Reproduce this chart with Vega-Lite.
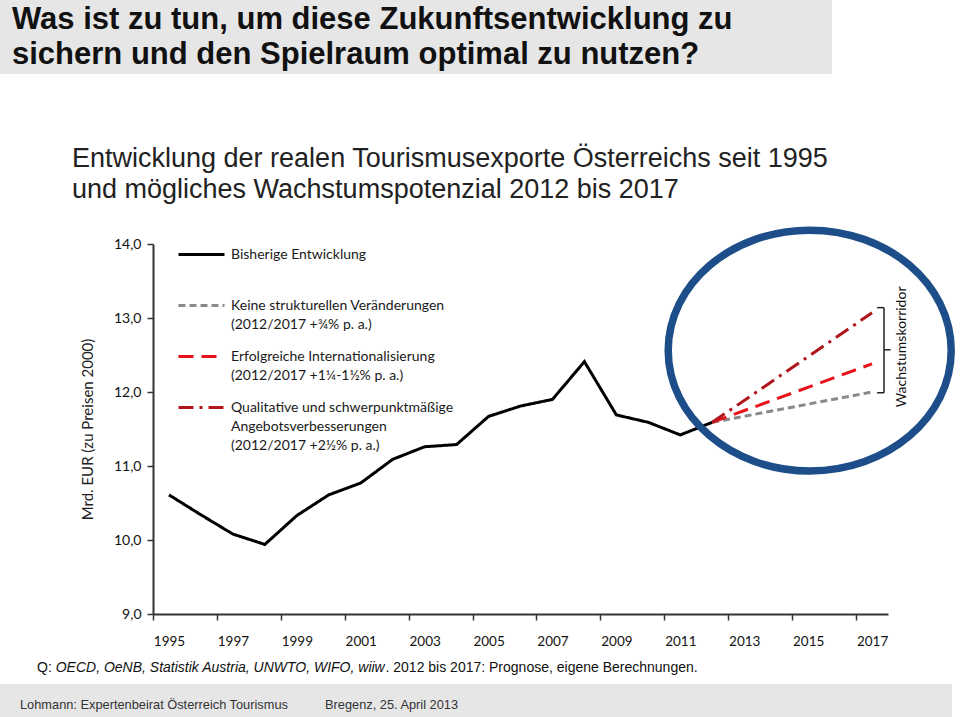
{
  "$schema": "https://vega.github.io/schema/vega-lite/v6.json",
  "padding": 0,
  "background": "white",
  "spacing": 0,
  "bounds": "flush",
  "config": {
    "view": {"stroke": null},
    "style": {"guide-label": {"lineHeight": 19}}
  },
  "vconcat": [
    {
      "width": 832,
      "height": 74,
      "view": {"fill": "#e6e6e7", "stroke": null},
      "data": {"values": [{}]},
      "mark": {"type": "text", "text": ["Was ist zu tun, um diese Zukunftsentwicklung zu", "sichern und den Spielraum optimal zu nutzen?"], "align": "left", "baseline": "top", "font": "Liberation Sans", "fontSize": 31, "fontWeight": "bold", "lineHeight": 35, "dx": 12, "dy": 5, "color": "#111111"},
      "encoding": {
        "x": {"datum": 0, "type": "quantitative", "scale": {"domain": [0, 1]}, "axis": null},
        "y": {"datum": 1, "type": "quantitative", "scale": {"domain": [0, 1]}, "axis": null}
      }
    },
    {
      "width": 832,
      "height": 170,
      "data": {"values": [{}]},
      "mark": {"type": "text", "text": ["Entwicklung der realen Tourismusexporte Österreichs seit 1995", "und mögliches Wachstumspotenzial 2012 bis 2017"], "align": "left", "baseline": "top", "font": "Liberation Sans", "fontSize": 27, "lineHeight": 31, "dx": 72, "dy": 72, "color": "#222222"},
      "encoding": {
        "x": {"datum": 0, "type": "quantitative", "scale": {"domain": [0, 1]}, "axis": null},
        "y": {"datum": 1, "type": "quantitative", "scale": {"domain": [0, 1]}, "axis": null}
      }
    },
    {
      "width": 888,
      "height": 370,
      "data": {"values": [
        {"series": "Bisherige Entwicklung", "year": 1995, "value": 10.61},
        {"series": "Bisherige Entwicklung", "year": 1996, "value": 10.34},
        {"series": "Bisherige Entwicklung", "year": 1997, "value": 10.08},
        {"series": "Bisherige Entwicklung", "year": 1998, "value": 9.94},
        {"series": "Bisherige Entwicklung", "year": 1999, "value": 10.33},
        {"series": "Bisherige Entwicklung", "year": 2000, "value": 10.61},
        {"series": "Bisherige Entwicklung", "year": 2001, "value": 10.77},
        {"series": "Bisherige Entwicklung", "year": 2002, "value": 11.09},
        {"series": "Bisherige Entwicklung", "year": 2003, "value": 11.26},
        {"series": "Bisherige Entwicklung", "year": 2004, "value": 11.29},
        {"series": "Bisherige Entwicklung", "year": 2005, "value": 11.67},
        {"series": "Bisherige Entwicklung", "year": 2006, "value": 11.81},
        {"series": "Bisherige Entwicklung", "year": 2007, "value": 11.9},
        {"series": "Bisherige Entwicklung", "year": 2008, "value": 12.41},
        {"series": "Bisherige Entwicklung", "year": 2009, "value": 11.69},
        {"series": "Bisherige Entwicklung", "year": 2010, "value": 11.59},
        {"series": "Bisherige Entwicklung", "year": 2011, "value": 11.42},
        {"series": "Bisherige Entwicklung", "year": 2012, "value": 11.59},
        {"series": "Keine strukturellen Veränderungen|(2012/2017 +¾% p. a.)", "year": 2012, "value": 11.59},
        {"series": "Keine strukturellen Veränderungen|(2012/2017 +¾% p. a.)", "year": 2017, "value": 12.0},
        {"series": "Erfolgreiche Internationalisierung|(2012/2017 +1¼-1½% p. a.)", "year": 2012, "value": 11.59},
        {"series": "Erfolgreiche Internationalisierung|(2012/2017 +1¼-1½% p. a.)", "year": 2017, "value": 12.38},
        {"series": "Qualitative und schwerpunktmäßige|\u00a0Angebotsverbesserungen|(2012/2017 +2½% p. a.)", "year": 2012, "value": 11.59},
        {"series": "Qualitative und schwerpunktmäßige|\u00a0Angebotsverbesserungen|(2012/2017 +2½% p. a.)", "year": 2017, "value": 13.07}
      ]},
      "layer": [
        {
          "mark": {"type": "line", "strokeWidth": 3, "strokeCap": "butt"},
          "encoding": {
            "x": {"field": "year", "type": "quantitative",
              "scale": {"domain": [1994.5, 2017.5], "range": [153, 888], "nice": false, "zero": false},
              "axis": {"values": [1994.5, 1995.5, 1996.5, 1997.5, 1998.5, 1999.5, 2000.5, 2001.5, 2002.5, 2003.5, 2004.5, 2005.5, 2006.5, 2007.5, 2008.5, 2009.5, 2010.5, 2011.5, 2012.5, 2013.5, 2014.5, 2015.5, 2016.5, 2017.5],
                "labelExpr": "(datum.value - 1994.5) % 2 == 0 ? toString(datum.value + 0.5) : ''",
                "labelOffset": 16, "title": null, "grid": false, "tickSize": 6, "tickWidth": 1.5, "tickColor": "#333333", "domainColor": "#333333", "domainWidth": 2,
                "labelFont": "Lato", "labelFontSize": 13.5, "labelColor": "#111111", "labelPadding": 14, "labelOverlap": false, "labelFlush": false, "labelBound": false}},
            "y": {"field": "value", "type": "quantitative",
              "scale": {"domain": [9, 14], "nice": false, "zero": false},
              "axis": {"values": [9, 9.5, 10, 10.5, 11, 11.5, 12, 12.5, 13, 13.5, 14],
                "labelExpr": "replace(format(datum.value, '.1f'), '.', ',')",
                "offset": -153, "grid": false, "tickSize": 6, "tickWidth": 1.5, "tickColor": "#333333", "domainColor": "#333333", "domainWidth": 2,
                "labelFont": "Lato", "labelFontSize": 14, "labelColor": "#111111", "labelPadding": 6, "labelOverlap": false,
                "title": "Mrd. EUR  (zu Preisen 2000)", "titleFont": "Lato", "titleFontSize": 15, "titleFontWeight": "normal", "titleColor": "#222222", "titlePadding": 18}},
            "color": {"field": "series", "type": "nominal",
              "scale": {"domain": ["Bisherige Entwicklung", "Keine strukturellen Veränderungen|(2012/2017 +¾% p. a.)", "Erfolgreiche Internationalisierung|(2012/2017 +1¼-1½% p. a.)", "Qualitative und schwerpunktmäßige|\u00a0Angebotsverbesserungen|(2012/2017 +2½% p. a.)"],
                "range": ["#000000", "#8a8a8a", "#e8141c", "#b0151c"]},
              "legend": {"title": null, "orient": "none", "legendX": 177, "legendY": 230, "symbolType": "stroke", "symbolSize": 2116, "symbolStrokeWidth": 3,
                "labelExpr": "datum.label == 'Bisherige Entwicklung' ? ['Bisherige Entwicklung', ''] : split(datum.label, '|')",
                "labelFont": "Lato", "labelFontSize": 14, "labelColor": "#1a1a1a", "labelOffset": 5, "labelLimit": 400, "rowPadding": -3, "padding": 0}},
            "strokeDash": {"field": "series", "type": "nominal",
              "scale": {"domain": ["Bisherige Entwicklung", "Keine strukturellen Veränderungen|(2012/2017 +¾% p. a.)", "Erfolgreiche Internationalisierung|(2012/2017 +1¼-1½% p. a.)", "Qualitative und schwerpunktmäßige|\u00a0Angebotsverbesserungen|(2012/2017 +2½% p. a.)"],
                "range": [[1, 0], [7, 4], [15, 8], [15, 6, 3, 6]]},
              "legend": {"title": null, "orient": "none", "legendX": 177, "legendY": 230, "symbolType": "stroke", "symbolSize": 2116, "symbolStrokeWidth": 3,
                "labelExpr": "datum.label == 'Bisherige Entwicklung' ? ['Bisherige Entwicklung', ''] : split(datum.label, '|')",
                "labelFont": "Lato", "labelFontSize": 14, "labelColor": "#1a1a1a", "labelOffset": 5, "labelLimit": 400, "rowPadding": -3, "padding": 0}}
          }
        },
        {
          "data": {"values": [{}]},
          "mark": {"type": "point", "shape": "M1,0C1,0.47 0.552,0.851 0,0.851C-0.552,0.851 -1,0.47 -1,0C-1,-0.47 -0.552,-0.851 0,-0.851C0.552,-0.851 1,-0.47 1,0Z", "size": 80089, "filled": false, "stroke": "#1d4e89", "strokeWidth": 7.5, "opacity": 1},
          "encoding": {
            "x": {"datum": 2015.05, "type": "quantitative"},
            "y": {"datum": 12.56, "type": "quantitative"}
          }
        },
        {
          "data": {"values": [{}]},
          "mark": {"type": "rule", "color": "#222222", "strokeWidth": 1.5},
          "encoding": {
            "x": {"datum": 2017.375, "type": "quantitative"},
            "y": {"datum": 11.99, "type": "quantitative"},
            "y2": {"datum": 13.14}
          }
        },
        {
          "data": {"values": [{}]},
          "mark": {"type": "rule", "color": "#222222", "strokeWidth": 1.5},
          "encoding": {
            "x": {"datum": 2017.16, "type": "quantitative"},
            "x2": {"datum": 2017.375},
            "y": {"datum": 13.14, "type": "quantitative"}
          }
        },
        {
          "data": {"values": [{}]},
          "mark": {"type": "rule", "color": "#222222", "strokeWidth": 1.5},
          "encoding": {
            "x": {"datum": 2017.16, "type": "quantitative"},
            "x2": {"datum": 2017.375},
            "y": {"datum": 11.99, "type": "quantitative"}
          }
        },
        {
          "data": {"values": [{}]},
          "mark": {"type": "rule", "color": "#222222", "strokeWidth": 1.5},
          "encoding": {
            "x": {"datum": 2017.375, "type": "quantitative"},
            "x2": {"datum": 2017.58},
            "y": {"datum": 12.57, "type": "quantitative"}
          }
        },
        {
          "data": {"values": [{}]},
          "mark": {"type": "text", "text": "Wachstumskorridor", "angle": 270, "align": "center", "baseline": "middle", "font": "Lato", "fontSize": 14, "color": "#111111"},
          "encoding": {
            "x": {"datum": 2017.95, "type": "quantitative"},
            "y": {"datum": 12.61, "type": "quantitative"}
          }
        }
      ]
    },
    {
      "width": 952,
      "height": 70,
      "data": {"values": [{}]},
      "layer": [
        {
          "mark": {"type": "text", "text": "Q:", "align": "left", "baseline": "alphabetic", "font": "Liberation Sans", "fontSize": 14, "dx": 37, "dy": 58, "color": "#111111"},
          "encoding": {
            "x": {"datum": 0, "type": "quantitative", "scale": {"domain": [0, 1]}, "axis": null},
            "y": {"datum": 1, "type": "quantitative", "scale": {"domain": [0, 1]}, "axis": null}
          }
        },
        {
          "mark": {"type": "text", "text": "OECD, OeNB, Statistik Austria, UNWTO, WIFO, wiiw", "align": "left", "baseline": "alphabetic", "font": "Liberation Sans", "fontStyle": "italic", "fontSize": 14, "dx": 55.7, "dy": 58, "color": "#111111"},
          "encoding": {
            "x": {"datum": 0, "type": "quantitative"},
            "y": {"datum": 1, "type": "quantitative"}
          }
        },
        {
          "mark": {"type": "text", "text": ". 2012 bis 2017: Prognose, eigene Berechnungen.", "align": "left", "baseline": "alphabetic", "font": "Liberation Sans", "fontSize": 14, "dx": 385.5, "dy": 58, "color": "#111111"},
          "encoding": {
            "x": {"datum": 0, "type": "quantitative"},
            "y": {"datum": 1, "type": "quantitative"}
          }
        }
      ]
    },
    {
      "width": 952,
      "height": 33,
      "view": {"fill": "#e6e6e7", "stroke": null},
      "data": {"values": [{}]},
      "layer": [
        {
          "mark": {"type": "text", "text": "Lohmann: Expertenbeirat Österreich Tourismus", "align": "left", "baseline": "middle", "font": "Liberation Sans", "fontSize": 12.8, "dx": 20, "dy": 21, "color": "#333333"},
          "encoding": {
            "x": {"datum": 0, "type": "quantitative", "scale": {"domain": [0, 1]}, "axis": null},
            "y": {"datum": 1, "type": "quantitative", "scale": {"domain": [0, 1]}, "axis": null}
          }
        },
        {
          "mark": {"type": "text", "text": "Bregenz, 25. April 2013", "align": "left", "baseline": "middle", "font": "Liberation Sans", "fontSize": 12.8, "dx": 325, "dy": 21, "color": "#333333"},
          "encoding": {
            "x": {"datum": 0, "type": "quantitative"},
            "y": {"datum": 1, "type": "quantitative"}
          }
        }
      ]
    }
  ]
}
